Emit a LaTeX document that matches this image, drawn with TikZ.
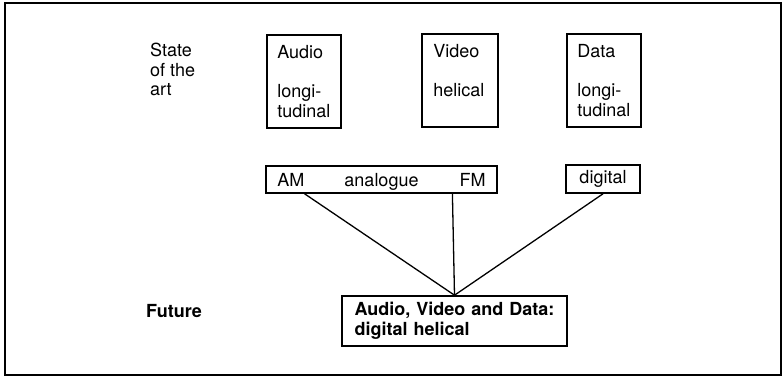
\documentclass[tikz,border=0pt]{standalone}
\usepackage{fontspec}
\setmainfont{TeX Gyre Heros}
\usepackage{tikz}
\usetikzlibrary{positioning,calc}

\begin{document}
\begin{tikzpicture}[
  x=1pt, y=1pt,
  font=\fontsize{18}{19.5}\selectfont,
  box/.style={draw, line width=1.6pt, align=left},
  col/.style={box, text width=53pt, inner xsep=10.5pt, minimum width=74pt, minimum height=93pt, anchor=north west},
  tag/.style={inner sep=0pt},
  bold/.style={font=\fontsize{18}{19.5}\selectfont\bfseries},
  link/.style={line width=1.3pt},
]
\useasboundingbox (0,0) rectangle (784,377);
\draw[line width=1.1pt] (5,2) rectangle (781,374);

% ── state of the art: three recording methods ─────────────────────────
\node[tag, align=left, anchor=north west] (soa) at (150,334) {State\\of the\\art};
\node[col] (audio) at (266,343) {Audio\\[20pt]longi-\\tudinal};
\node[col, minimum width=76pt] (video) at (421,344) {Video\\[20pt]helical\\\mbox{}};
\node[col] (data) at (566,344) {Data\\[20pt]longi-\\tudinal};

% ── analogue / digital ───────────────────────────────────────────────
\node[box, minimum width=231pt, minimum height=27pt] (ana) at (381.5,197.5) {};
\node[tag, anchor=base west] (am) at ($(ana.west)+(12,-7)$) {AM};
\node[tag, anchor=base] (an) at ($(ana.center)+(0,-7)$) {analogue};
\node[tag, anchor=base east] (fm) at ($(ana.east)+(-12,-7)$) {FM};
\node[box, minimum width=74pt, minimum height=28pt] (dig) at (603,198) {digital};

% ── future ───────────────────────────────────────────────────────────
\node[tag, bold, anchor=west] (fu) at (146,66) {Future};
\node[box, bold, text width=200pt, inner xsep=12.5pt, minimum height=50pt] (fut) at (454.5,56)
  {Audio, Video and Data:\\digital helical};

% edges
\draw[link] (am.east |- ana.south) -- (fut.north);
\draw[link] ([xshift=-7pt]fm.west |- ana.south) -- (fut.north);
\draw[link] (dig.south) -- (fut.north);

\end{tikzpicture}
\end{document}
